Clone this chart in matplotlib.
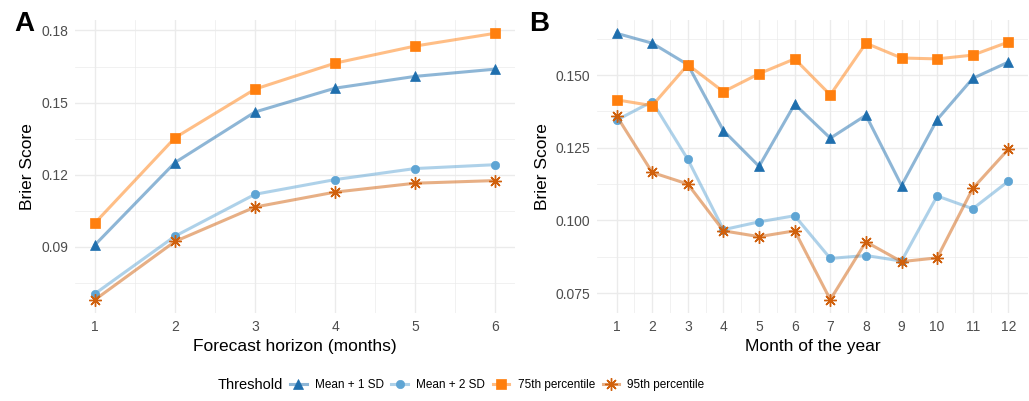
import matplotlib.pyplot as plt
from matplotlib.lines import Line2D
from matplotlib.ticker import FixedLocator

plt.rcParams['font.family'] = ['Liberation Sans', 'DejaVu Sans']

# Panel A: by forecast horizon
horizon = [1, 2, 3, 4, 5, 6]
a_mean1sd = [0.0909, 0.1251, 0.1461, 0.1560, 0.1609, 0.1639]
a_mean2sd = [0.0706, 0.0945, 0.1119, 0.1180, 0.1226, 0.1242]
a_p75 = [0.1000, 0.1354, 0.1556, 0.1664, 0.1735, 0.1788]
a_p95 = [0.0681, 0.0923, 0.1066, 0.1128, 0.1165, 0.1176]

# Panel B: by month of the year
months = list(range(1, 13))
b_mean1sd = [0.1644, 0.1610, 0.1536, 0.1309, 0.1186, 0.1400,
             0.1283, 0.1362, 0.1120, 0.1347, 0.1489, 0.1545]
b_mean2sd = [0.1345, 0.1409, 0.1210, 0.0968, 0.0995, 0.1016,
             0.0869, 0.0879, 0.0860, 0.1084, 0.1040, 0.1135]
b_p75 = [0.1415, 0.1395, 0.1536, 0.1443, 0.1505, 0.1556,
         0.1432, 0.1610, 0.1559, 0.1556, 0.1569, 0.1614]
b_p95 = [0.1360, 0.1165, 0.1125, 0.0964, 0.0944, 0.0964,
         0.0727, 0.0926, 0.0858, 0.0871, 0.1110, 0.1245]

labels = ['Mean + 1 SD', 'Mean + 2 SD', '75th percentile', '95th percentile']
colors = ['#1f6fae', '#5fa5d4', '#ff7f0e', '#d0600c']
markers = ['^', 'o', 's', (8, 2, 0)]
sizes = [7, 6, 6.5, 9]


def style(c, m, s):
    rgb = plt.matplotlib.colors.to_rgb(c)
    kw = dict(color=rgb + (0.5,), lw=2.2, marker=m, ms=s,
              mfc=c, mec=c, mew=0.5)
    if m == (8, 2, 0):
        kw['mew'] = 1.0
    return kw


def draw(ax, x, series, yticks, yfmt, xlabel):
    for ys, c, m, s in zip(series, colors, markers, sizes):
        ax.plot(x, ys, **style(c, m, s))
    ax.set_xticks(x)
    ax.xaxis.set_minor_locator(FixedLocator([v + 0.5 for v in x[:-1]]))
    ax.set_yticks(yticks)
    ax.set_yticklabels([yfmt % v for v in yticks])
    step = yticks[1] - yticks[0]
    ax.yaxis.set_minor_locator(FixedLocator(
        [yticks[0] - step / 2] + [v + step / 2 for v in yticks]))
    ax.grid(True, which='major', color='#ebebeb', lw=1.0)
    ax.grid(True, which='minor', color='#ebebeb', lw=0.5)
    ax.set_axisbelow(True)
    for sp in ax.spines.values():
        sp.set_visible(False)
    ax.tick_params(which='both', length=0, labelsize=10, colors='#4d4d4d', pad=5)
    ax.set_xlabel(xlabel, fontsize=12.5, labelpad=4)
    ax.set_ylabel('Brier Score', fontsize=12.5, labelpad=4)


fig = plt.figure(figsize=(10.29, 4.01), dpi=100)
axA = fig.add_axes([75 / 1029, 1 - 313 / 401, 440 / 1029, 293 / 401])
axB = fig.add_axes([597 / 1029, 1 - 313 / 401, 431 / 1029, 293 / 401])

draw(axA, horizon, [a_mean1sd, a_mean2sd, a_p75, a_p95],
     [0.09, 0.12, 0.15, 0.18], '%.2f', 'Forecast horizon (months)')
draw(axB, months, [b_mean1sd, b_mean2sd, b_p75, b_p95],
     [0.075, 0.100, 0.125, 0.150], '%.3f', 'Month of the year')

fig.text(14 / 1029, 1 - 11 / 401, 'A', fontsize=20, fontweight='bold', va='top')
fig.text(529 / 1029, 1 - 11 / 401, 'B', fontsize=20, fontweight='bold', va='top')

handles = [Line2D([], [], **style(c, m, s)) for c, m, s in zip(colors, markers, sizes)]
fig.text(218 / 1029, 1 - 385 / 401, 'Threshold', fontsize=10.5, va='center')
fig.legend(handles, labels, ncol=4, frameon=False, fontsize=8.5,
           loc='center left', bbox_to_anchor=(290 / 1029, 1 - 385 / 401),
           handlelength=1.4, handletextpad=0.7, columnspacing=0.65,
           borderaxespad=0, borderpad=0)

fig.savefig('out.png', dpi=100)
